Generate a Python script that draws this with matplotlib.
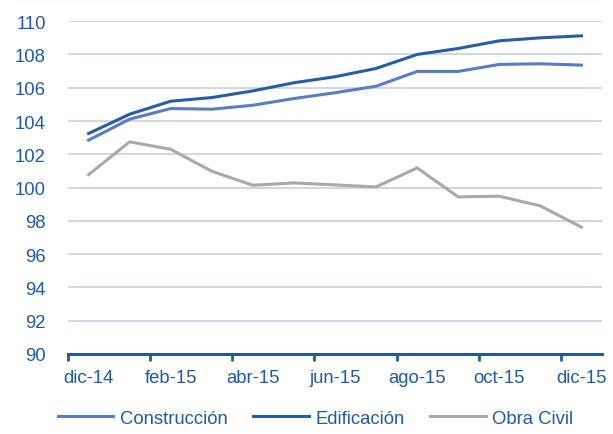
import matplotlib
matplotlib.use("Agg")
import matplotlib.pyplot as plt
from matplotlib.lines import Line2D

plt.rcParams['font.family'] = ['Liberation Sans', 'DejaVu Sans']

# monthly index values, dic-14 .. dic-15
months = ["dic-14", "ene-15", "feb-15", "mar-15", "abr-15", "may-15", "jun-15",
          "jul-15", "ago-15", "sep-15", "oct-15", "nov-15", "dic-15"]
construccion = [102.85, 104.11, 104.75, 104.71, 104.95, 105.35, 105.70,
                106.09, 106.98, 106.98, 107.40, 107.44, 107.36]
edificacion = [103.25, 104.41, 105.19, 105.41, 105.81, 106.30, 106.66,
               107.16, 108.00, 108.36, 108.82, 109.00, 109.12]
obra_civil = [100.78, 102.75, 102.30, 100.98, 100.14, 100.28, 100.16,
              100.04, 101.18, 99.44, 99.48, 98.90, 97.62]

lab_col = '#1F5AA6'
fs = 13.3
fig = plt.figure(figsize=(6.13, 4.35), dpi=100)
ax = fig.add_axes([0.111, 0.184, 0.871, 0.765])

x = list(range(len(months)))
ax.plot(x, construccion, color='#5B7DC0', lw=2.2, label='Construcción')
ax.plot(x, edificacion, color='#2A5CA6', lw=2.2, label='Edificación')
ax.plot(x, obra_civil, color='#A9A9A9', lw=2.2, label='Obra Civil')

ax.set_ylim(90, 110)
ax.set_yticks(range(90, 111, 2))
ax.set_xlim(-0.5, len(months) - 0.5)
ax.set_xticks([i - 0.5 for i in range(0, len(months), 2)])
ax.set_xticklabels([])
ax.set_xticks(x[::2], minor=True)
ax.set_xticklabels(months[::2], minor=True)

ax.grid(axis='y', color='#C9CFE4', lw=1.2)
ax.set_axisbelow(True)
for s in ['top', 'right', 'left']:
    ax.spines[s].set_visible(False)
ax.spines['bottom'].set_color('#1F5AA6')
ax.spines['bottom'].set_linewidth(2.2)

ax.tick_params(axis='y', length=0, labelsize=fs, labelcolor=lab_col, pad=16)
ax.tick_params(axis='x', which='major', direction='out', length=5, width=2, color='#1F5AA6')
ax.tick_params(axis='x', which='minor', length=0, labelsize=fs, labelcolor=lab_col, pad=10.5)

leg = fig.legend(loc='lower center', bbox_to_anchor=(0.515, -0.022), ncol=3, frameon=False,
                 fontsize=fs, handlelength=3.0, columnspacing=1.4, handletextpad=0.35)
for t in leg.get_texts():
    t.set_color(lab_col)

# thin grey border line along the top
fig.add_artist(Line2D([0.02, 0.985], [0.999, 0.999], transform=fig.transFigure,
                      color='#C0C0C0', lw=1.5))

fig.savefig('out.png', dpi=100)
